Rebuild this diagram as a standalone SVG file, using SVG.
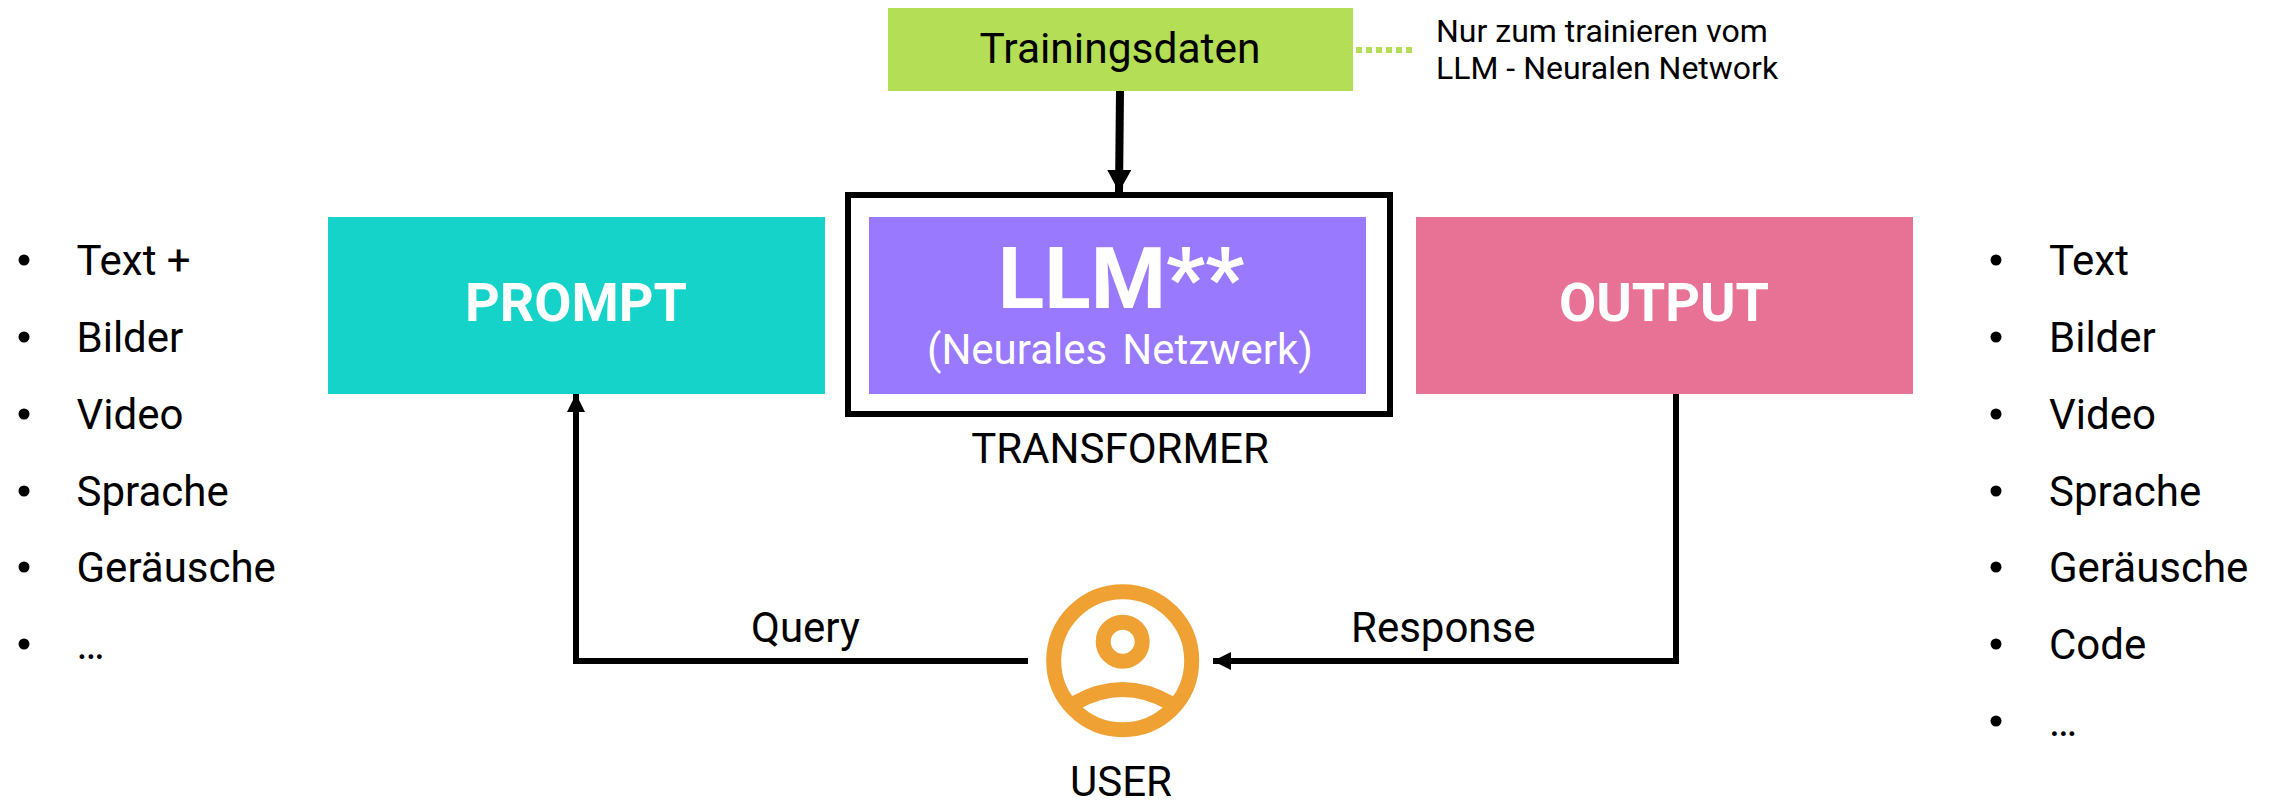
<svg xmlns="http://www.w3.org/2000/svg" width="2278" height="802" viewBox="0 0 2278 802">
<style>
text{font-family:Roboto,"Liberation Sans",sans-serif;fill:#000}
.l{font-size:42px}
.m{text-anchor:middle}
.w{fill:#fff}
.b{font-weight:700}
.c{fill:none;stroke:#000;stroke-width:6}
.i{fill:none;stroke:#f0a133;stroke-width:15}
</style>
<defs>
<marker id="a" markerUnits="userSpaceOnUse" markerWidth="18" markerHeight="18" refX="18" refY="9" orient="auto"><path d="M0 0L18 9L0 18z" fill="#000"/></marker>
<marker id="t" markerUnits="userSpaceOnUse" markerWidth="22" markerHeight="24" refX="22" refY="12" orient="auto"><path d="M0 0L22 12L0 24z" fill="#000"/></marker>
</defs>
<rect width="2278" height="802" fill="#fff"/>
<g id="connectors">
<path class="c" d="M1028 661H576V394" marker-end="url(#a)"/>
<path class="c" d="M1676 394V661H1213" marker-end="url(#a)"/>
<path class="c" style="stroke-width:8" d="M1120 91L1119 192" marker-end="url(#t)"/>
<path d="M1356 50H1416" fill="none" stroke="#b3de55" stroke-width="6" stroke-dasharray="6 4"/>
</g>
<g id="trainingsdaten"><rect x="888" y="8" width="465" height="83" fill="#b3de55"/><text class="m" font-size="42.5" x="1120" y="63">Trainingsdaten</text></g>
<g id="note"><text x="1436" y="42" font-size="32">Nur zum trainieren vom</text><text x="1436" y="79" font-size="32">LLM - Neuralen Network</text></g>
<g id="prompt"><rect x="328" y="217" width="497" height="177" fill="#15d3c8"/><text class="m w b" x="576" y="321" font-size="54">PROMPT</text></g>
<g id="transformer"><rect x="848" y="195" width="542" height="219" fill="none" stroke="#000" stroke-width="6"/><rect x="869" y="217" width="497" height="177" fill="#9979fe"/><text class="m w b" x="1121" y="308" font-size="86">LLM**</text><text class="m w" x="1120" y="364" font-size="42" word-spacing="4.6">(Neurales Netzwerk)</text><text class="l m" x="1120" y="463">TRANSFORMER</text></g>
<g id="output"><rect x="1416" y="217" width="497" height="177" fill="#e77296"/><text class="m w b" x="1664" y="321" font-size="54">OUTPUT</text></g>
<g id="user"><circle class="i" cx="1122.7" cy="660.7" r="69"/><circle class="i" cx="1122.7" cy="641.7" r="19.5"/><path class="i" d="M1075 703Q1122.7 676 1170 703"/><text class="l m" x="1121" y="796">USER</text></g>
<g id="labels"><text class="l" x="751" y="642">Query</text><text class="l" x="1351" y="642">Response</text></g>
<g id="list-left">
<circle cx="24" cy="260" r="5.5"/><text class="l" x="76.5" y="275">Text +</text>
<circle cx="24" cy="337" r="5.5"/><text class="l" x="76.5" y="352">Bilder</text>
<circle cx="24" cy="414" r="5.5"/><text class="l" x="76.5" y="429">Video</text>
<circle cx="24" cy="491" r="5.5"/><text class="l" x="76.5" y="506">Sprache</text>
<circle cx="24" cy="567" r="5.5"/><text class="l" x="76.5" y="582">Geräusche</text>
<circle cx="24" cy="644" r="5.5"/><text class="l" x="76.5" y="659">…</text>
</g>
<g id="list-right">
<circle cx="1996" cy="260" r="5.5"/><text class="l" x="2049" y="275">Text</text>
<circle cx="1996" cy="337" r="5.5"/><text class="l" x="2049" y="352">Bilder</text>
<circle cx="1996" cy="414" r="5.5"/><text class="l" x="2049" y="429">Video</text>
<circle cx="1996" cy="491" r="5.5"/><text class="l" x="2049" y="506">Sprache</text>
<circle cx="1996" cy="567" r="5.5"/><text class="l" x="2049" y="582">Geräusche</text>
<circle cx="1996" cy="644" r="5.5"/><text class="l" x="2049" y="659">Code</text>
<circle cx="1996" cy="721" r="5.5"/><text class="l" x="2049" y="736">…</text>
</g>
</svg>
